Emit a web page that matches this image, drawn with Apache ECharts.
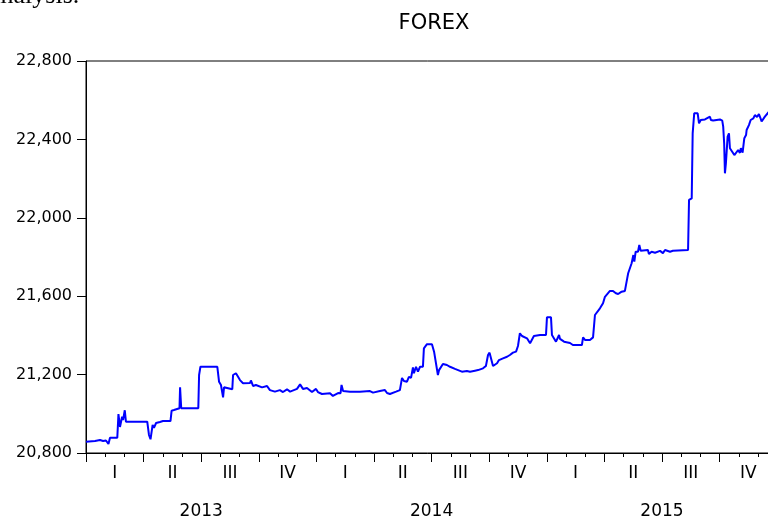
<!DOCTYPE html>
<html>
<head>
<meta charset="utf-8">
<script src="https://cdn.jsdelivr.net/npm/echarts@6/dist/echarts.min.js"></script>
<style>
html,body{margin:0;padding:0;background:#fff;}
#c{width:768px;height:518px;}
</style>
</head>
<body>
<div id="c"></div>
<script>
// x = months elapsed since 1 Jan 2013 (fractional), y = FOREX rate
var monthIndex = [
0,0.47,0.73,0.89,1.04,1.11,1.17,1.25,1.63,1.69,1.77,1.88,1.93,2.02,2.08,3.19,3.28,3.36,3.44,3.47,3.54,3.65,3.85,4.01,4.40,4.46,4.58,4.64,4.87,4.90,4.96,5.85,5.89,5.96,6.84,6.93,7.03,7.11,7.14,7.19,7.29,7.62,7.66,7.81,7.92,8.02,
8.18,8.54,8.59,8.70,8.85,9.17,9.43,9.58,9.84,10.10,10.26,10.47,10.63,10.99,11.15,11.30,11.51,11.77,11.98,12.08,12.29,12.71,12.86,13.13,13.26,13.31,13.39,13.75,14.27,14.79,14.95,15.31,15.57,15.68,15.83,16.15,16.35,
16.46,16.56,16.72,16.82,16.93,17.03,17.08,17.19,17.29,17.40,17.55,17.60,17.76,18.02,18.13,18.23,18.33,18.39,18.49,18.59,18.80,18.96,19.22,19.38,19.58,19.84,20.00,20.26,20.42,20.68,20.83,20.94,21.02,21.09,21.20,21.30,21.41,21.51,21.72,21.93,22.08,22.24,22.40,22.50,22.60,22.71,22.81,22.97,23.13,23.33,23.65,23.96,24.01,24.22,24.27,24.48,24.64,24.69,24.90,25.21,25.36,25.83,25.89,25.99,26.25,26.41,26.51,26.60,26.77,26.93,27.03,27.12,27.29,27.45,27.60,27.72,27.90,28.07,28.19,28.24,28.33,28.42,28.51,28.56,28.63,28.75,28.82,28.89,29.27,29.32,29.46,29.64,29.90,30.05,30.16,30.42,30.57,31.36,31.41,31.55,31.60,31.64,31.68,31.77,31.86,31.93,32.02,32.07,32.24,32.50,32.55,32.67,32.76,33.02,33.14,33.19,33.24,33.28,33.33,33.39,33.42,33.49,33.54,33.63,33.77,33.85,33.97,34.06,34.11,34.20,34.29,34.38,34.41,34.53,34.62,34.76,34.84,34.95,35.05,35.13,35.19,35.27,35.36,35.57
];
var forex = [
20858,20861,20866,20861,20864,20861,20846,20878,20878,20999,20933,20985,20968,21018,20960,20960,20892,20870,20871,20943,20928,20953,20958,20963,20963,21016,21019,21028,21028,21135,21028,21028,21198,21240,21240,21164,21147,21152,21084,21135,21125,21125,21198,21207,21189,21172,
21156,21157,21170,21142,21147,21135,21142,21121,21113,21121,21111,21125,21113,21127,21150,21127,21132,21111,21127,21111,21101,21105,21091,21106,21105,21147,21116,21113,21113,21116,21108,21116,21121,21106,21101,21113,21121,
21183,21167,21164,21189,21183,21237,21207,21240,21215,21240,21240,21334,21355,21355,21317,21315,21198,21223,21232,21254,21249,21240,21229,21223,21215,21218,21215,21220,21223,21232,21244,21300,21312,21305,21244,21237,21258,21274,21283,21291,21300,21312,21317,21346,21411,21397,21393,21385,21360,21397,21402,21402,21492,21492,21402,21368,21402,21382,21368,21361,21351,21351,21390,21377,21377,21390,21504,21513,21538,21564,21597,21606,21627,21627,21615,21611,21623,21627,21691,21717,21708,21768,21810,21776,21827,21827,21861,21832,21836,21815,21827,21822,21831,21820,21836,21827,21832,21836,22091,22099,22431,22439,22533,22541,22533,22482,22499,22507,22502,22516,22499,22496,22502,22502,22496,22465,22380,22227,22278,22285,22414,22431,22355,22346,22320,22312,22346,22331,22355,22332,22406,22422,22448,22473,22499,22507,22524,22514,22529,22509,22491,22491,22516,22541
];
var quarterLabels = ['I', 'II', 'III', 'IV'];
var yearLabels = ['2013', '2014', '2015'];
var yMin = 20800, yMax = 22800, yStep = 400;
var xMax = 35.94;
var nMonths = 36;

var seriesData = monthIndex.map(function (m, i) { return [m, forex[i]]; });
var monthTicks = [], quarterTicks = [], quarterMids = [], yearMids = [];
for (var k = 0; k < nMonths; k++) {
  monthTicks.push(k);
  if (k % 3 === 0) { quarterTicks.push(k); quarterMids.push(k + 1.5); }
  if (k % 12 === 0) yearMids.push(k + 6);
}

var chart = echarts.init(document.getElementById('c'));
var FONT = 'DejaVu Sans';
var baseX = {
  type: 'value', min: 0, max: xMax, position: 'bottom', gridIndex: 0,
  splitLine: { show: false }, axisLine: { show: false }, axisTick: { show: false },
  axisLabel: { show: false }
};
function ax(o) { return Object.assign({}, baseX, o); }
chart.setOption({
  animation: false,
  backgroundColor: '#fff',
  title: {
    text: 'FOREX', left: 429, top: 8, textAlign: 'center',
    textStyle: { fontFamily: FONT, fontSize: 21, fontWeight: 'normal', color: '#000' }
  },
  graphic: [{
    type: 'text', left: -11, top: -17, silent: true,
    style: { text: 'analysis.', font: '26px "Liberation Serif"', fill: '#000' }
  }],
  grid: { left: 86, top: 61, width: 690, height: 392, show: true, borderColor: '#000', borderWidth: 1,
          containLabel: false, outerBoundsMode: 'none' },
  xAxis: [
    ax({ axisLine: { show: true, lineStyle: { color: '#000', width: 1 } },
         axisTick: { show: true, length: 4, customValues: monthTicks, lineStyle: { color: '#000' } } }),
    ax({ axisTick: { show: true, length: 9, customValues: quarterTicks, lineStyle: { color: '#000' } } }),
    ax({ axisLabel: { show: true, margin: 12, color: '#000', fontFamily: FONT, fontSize: 17, customValues: quarterMids,
         formatter: function (v) { return quarterLabels[Math.floor((v % 12) / 3)]; } } }),
    ax({ axisLabel: { show: true, margin: 50, color: '#000', fontFamily: FONT, fontSize: 17, customValues: yearMids,
         formatter: function (v) { return yearLabels[Math.floor(v / 12)] || ''; } } })
  ],
  yAxis: {
    type: 'value', min: yMin, max: yMax, interval: yStep,
    axisLine: { show: true, lineStyle: { color: '#000', width: 1 } },
    axisTick: { show: true, length: 9, lineStyle: { color: '#000' } },
    splitLine: { show: false },
    axisLabel: { margin: 14, color: '#000', fontFamily: FONT, fontSize: 16,
      formatter: function (v) { return v.toLocaleString('en-US'); } }
  },
  series: [{
    type: 'line', data: seriesData, xAxisIndex: 0, showSymbol: false, symbol: 'none',
    lineStyle: { color: '#0000FF', width: 2 }, clip: true
  }]
});
</script>
</body>
</html>
